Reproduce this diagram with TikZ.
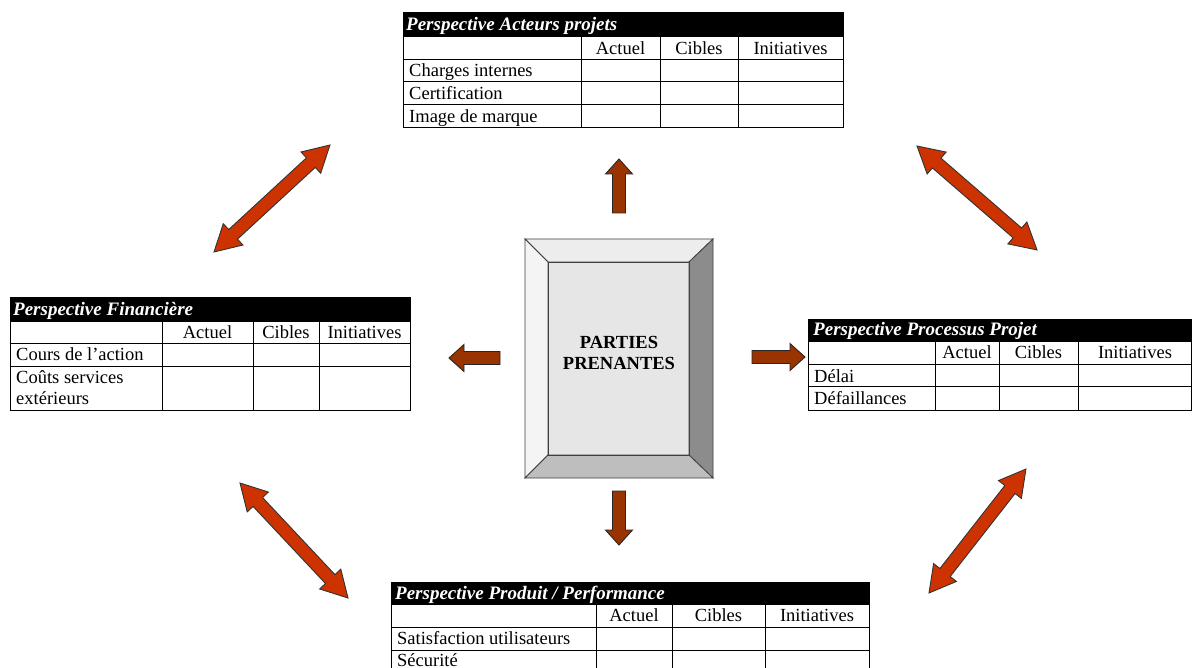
\documentclass[tikz,border=0pt]{standalone}
\usepackage{fontspec}
\setmainfont{Liberation Serif}
\definecolor{brownarr}{HTML}{993300}
\definecolor{redarr}{HTML}{CC3300}
\definecolor{bevtop}{HTML}{EDEDED}
\definecolor{bevleft}{HTML}{F4F4F4}
\definecolor{bevright}{HTML}{8C8C8C}
\definecolor{bevbot}{HTML}{BEBEBE}
\definecolor{bevin}{HTML}{E6E6E6}
\tikzset{
  hdr/.style={fill=black,draw=black,line width=1pt},
  gridline/.style={draw=black,line width=1pt},
  htxt/.style={anchor=base west,inner sep=0pt,text=white,font=\fontsize{19}{21}\selectfont\bfseries\itshape},
  ctxt/.style={anchor=base,inner sep=0pt,font=\fontsize{18.5}{20}\selectfont},
  rtxt/.style={anchor=base west,inner sep=0pt,font=\fontsize{18.5}{20}\selectfont},
  bevel/.style={draw=black!75,line width=0.8pt},
  dblstyle/.style={fill=redarr,draw=black!80,line width=0.9pt,line join=miter},
  sglstyle/.style={fill=brownarr,draw=black!85,line width=0.9pt,line join=miter},
  pics/dblarr/.style={code={
    \draw[dblstyle] (0,0) -- (26,14.5) -- (26,6.5) -- ({#1-26},6.5) -- ({#1-26},14.5) -- (#1,0)
      -- ({#1-26},-14.5) -- ({#1-26},-6.5) -- (26,-6.5) -- (26,-14.5) -- cycle;}},
  pics/sglarr/.style={code={
    \draw[sglstyle] (0,6.5) -- ({#1-15},6.5) -- ({#1-15},13.5) -- (#1,0)
      -- ({#1-15},-13.5) -- ({#1-15},-6.5) -- (0,-6.5) -- cycle;}}
}
\begin{document}
\begin{tikzpicture}[x=1pt,y=-1pt]
\clip (0,0) rectangle (1192,668);
\fill[white] (0,0) rectangle (1192,668);

% ---------- centre box ----------
\fill[bevin] (548,262) rectangle (689,455);
\filldraw[bevel,fill=bevtop] (525,239) -- (713,239) -- (689,262) -- (548,262) -- cycle;
\filldraw[bevel,fill=bevleft] (525,239) -- (548,262) -- (548,455) -- (525,478) -- cycle;
\filldraw[bevel,fill=bevright] (713,239) -- (713,478) -- (689,455) -- (689,262) -- cycle;
\filldraw[bevel,fill=bevbot] (525,478) -- (548,455) -- (689,455) -- (713,478) -- cycle;
\draw[bevel] (548,262) rectangle (689,455);
\node[align=center,inner sep=0pt,font=\fontsize{18.5}{21}\selectfont\bfseries] (pp) at (619,353) {PARTIES\\PRENANTES};

% ---------- top table ----------
\draw[hdr] (403,13) rectangle (843,37);
\node[htxt] (tT) at (406,31) {Perspective Acteurs projets};
\draw[gridline] (403,37) rectangle (843,128);
\foreach \y in {60,82,105} \draw[gridline] (403,\y) -- (843,\y);
\foreach \x in {581,660,738} \draw[gridline] (\x,37) -- (\x,128);
\node[ctxt] (tTa) at (620.5,55) {Actuel};
\node[ctxt] (tTb) at (699,55) {Cibles};
\node[ctxt] (tTc) at (790.5,55) {Initiatives};
\node[rtxt] (tT1) at (409,77) {Charges internes};
\node[rtxt] (tT2) at (409,100) {Certification};
\node[rtxt] (tT3) at (409,123) {Image de marque};

% ---------- left table ----------
\draw[hdr] (10,298) rectangle (410,322);
\node[htxt] (tL) at (13,316) {Perspective Financière};
\draw[gridline] (10,322) rectangle (410,410);
\foreach \y in {344,367} \draw[gridline] (10,\y) -- (410,\y);
\foreach \x in {162,253,319} \draw[gridline] (\x,322) -- (\x,410);
\node[ctxt] (tLa) at (207.5,339) {Actuel};
\node[ctxt] (tLb) at (286,339) {Cibles};
\node[ctxt] (tLc) at (364.5,339) {Initiatives};
\node[rtxt] (tL1) at (16,361) {Cours de l’action};
\node[rtxt] (tL2) at (16,384) {Coûts services};
\node[rtxt] (tL3) at (16,404) {extérieurs};

% ---------- right table ----------
\draw[hdr] (808,320) rectangle (1200,342);
\node[htxt] (tR) at (813,336) {Perspective Processus Projet};
\draw[gridline] (808,342) rectangle (1191,410);
\foreach \y in {365,387} \draw[gridline] (808,\y) -- (1191,\y);
\foreach \x in {935,999,1078} \draw[gridline] (\x,342) -- (\x,410);
\node[ctxt] (tRa) at (967,359) {Actuel};
\node[ctxt] (tRb) at (1038.5,359) {Cibles};
\node[ctxt] (tRc) at (1135,359) {Initiatives};
\node[rtxt] (tR1) at (814,382) {Délai};
\node[rtxt] (tR2) at (814,404) {Défaillances};

% ---------- bottom table ----------
\draw[hdr] (391,582) rectangle (869,604);
\node[htxt] (tB) at (395,599) {Perspective Produit / Performance};
\draw[gridline] (391,604) rectangle (869,680);
\foreach \y in {627,650} \draw[gridline] (391,\y) -- (869,\y);
\foreach \x in {596,672,765} \draw[gridline] (\x,604) -- (\x,680);
\node[ctxt] (tBa) at (634,621) {Actuel};
\node[ctxt] (tBb) at (718.5,621) {Cibles};
\node[ctxt] (tBc) at (817,621) {Initiatives};
\node[rtxt] (tB1) at (397,644) {Satisfaction utilisateurs};
\node[rtxt] (tB2) at (397,666) {Sécurité};

% ---------- single arrows (centre -> perspectives) ----------
\coordinate (aU) at (619,213);
\coordinate (aD) at (619,491);
\coordinate (aL) at (500,358);
\coordinate (aR) at (752,357);
\pic[rotate=90] at (aU) {sglarr=54};
\pic[rotate=-90] at (aD) {sglarr=54};
\pic[rotate=180] at (aL) {sglarr=51};
\pic[rotate=0] at (aR) {sglarr=53};

% ---------- double arrows between perspectives ----------
\coordinate (dTL) at (214,252);
\coordinate (dTR) at (917,146);
\coordinate (dBL) at (240,483);
\coordinate (dBR) at (929,593);
\pic[rotate=42.7] at (dTL) {dblarr=157.8};
\pic[rotate=-40.9] at (dTR) {dblarr=158.8};
\pic[rotate=-46.8] at (dBL) {dblarr=157.8};
\pic[rotate=51.97] at (dBR) {dblarr=157.4};
\end{tikzpicture}
\end{document}
